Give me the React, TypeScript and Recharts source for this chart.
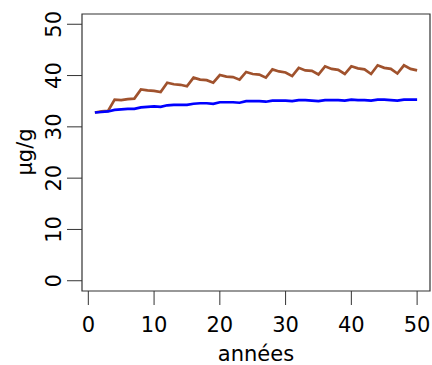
import { LineChart, Line, XAxis, YAxis, ReferenceArea, Label } from "recharts";

const years = [
  1, 2, 3, 4, 5, 6, 7, 8, 9, 10, 11, 12, 13, 14, 15, 16, 17, 18, 19, 20, 21, 22, 23, 24, 25,
  26, 27, 28, 29, 30, 31, 32, 33, 34, 35, 36, 37, 38, 39, 40, 41, 42, 43, 44, 45, 46, 47, 48,
  49, 50,
];

// brown sawtooth series (µg/g)
const brownSeries = [
  32.8, 33.0, 33.1, 35.3, 35.2, 35.4, 35.5, 37.3, 37.1, 37.0, 36.8, 38.6, 38.3, 38.2, 37.9,
  39.6, 39.2, 39.1, 38.6, 40.1, 39.8, 39.7, 39.2, 40.7, 40.3, 40.2, 39.6, 41.2, 40.8, 40.6,
  39.9, 41.5, 41.0, 40.9, 40.2, 41.8, 41.3, 41.1, 40.3, 41.8, 41.4, 41.2, 40.3, 42.0, 41.5,
  41.3, 40.4, 42.0, 41.3, 41.0,
];

// blue smooth series (µg/g)
const blueSeries = [
  32.8, 32.9, 33.0, 33.3, 33.4, 33.5, 33.5, 33.8, 33.9, 34.0, 33.9, 34.2, 34.3, 34.3, 34.3,
  34.5, 34.6, 34.6, 34.5, 34.8, 34.8, 34.8, 34.7, 35.0, 35.0, 35.0, 34.9, 35.1, 35.1, 35.1,
  35.0, 35.2, 35.2, 35.1, 35.0, 35.2, 35.2, 35.2, 35.1, 35.3, 35.2, 35.2, 35.1, 35.3, 35.3,
  35.2, 35.1, 35.3, 35.3, 35.3,
];

const xTicks = [0, 10, 20, 30, 40, 50];
const yTicks = [0, 10, 20, 30, 40, 50];

const data = years.map((x, i) => ({ x, brown: brownSeries[i], blue: blueSeries[i] }));

const FONT = "'DejaVu Sans', sans-serif";
const FS = 21;
const AXIS = "#333";

const YTick = (props: any) => {
  const { y, payload } = props;
  return (
    <text
      x={61}
      y={y}
      transform={`rotate(-90, 61, ${y})`}
      textAnchor="middle"
      fontFamily={FONT}
      fontSize={FS}
      fill="#000"
    >
      {payload.value}
    </text>
  );
};

export default function App() {
  return (
    <div style={{ position: "absolute", left: 0, top: 0, background: "#fff" }}>
      <LineChart
        width={432}
        height={365}
        data={data}
        margin={{ top: 14, right: 2, left: 0, bottom: 0 }}
      >
        <XAxis
          dataKey="x"
          type="number"
          domain={[-0.96, 51.96]}
          ticks={xTicks}
          allowDataOverflow
          axisLine={false}
          tickLine={{ stroke: AXIS }}
          tickSize={14}
          tickMargin={12}
          height={74}
          tick={{ fill: "#000", fontSize: FS, fontFamily: FONT }}
        >
          <Label
            content={() => (
              <text x={256} y={361} textAnchor="middle" fontFamily={FONT} fontSize={FS} fill="#000">
                années
              </text>
            )}
          />
        </XAxis>
        <YAxis
          type="number"
          domain={[-2, 52]}
          ticks={yTicks}
          allowDataOverflow
          axisLine={false}
          tickLine={{ stroke: AXIS }}
          tickSize={15}
          width={82}
          tick={<YTick />}
        >
          <Label
            content={() => (
              <text
                x={32}
                y={152}
                transform="rotate(-90, 32, 152)"
                textAnchor="middle"
                fontFamily={FONT}
                fontSize={FS}
                fill="#000"
              >
                µg/g
              </text>
            )}
          />
        </YAxis>
        <ReferenceArea x1={-0.96} x2={51.96} y1={-2} y2={52} fill="none" stroke={AXIS} strokeWidth={1.2} />
        <Line
          type="linear"
          dataKey="brown"
          stroke="#A0522D"
          strokeWidth={2.7}
          dot={false}
          isAnimationActive={false}
        />
        <Line
          type="linear"
          dataKey="blue"
          stroke="#0000FF"
          strokeWidth={2.7}
          dot={false}
          isAnimationActive={false}
        />
      </LineChart>
    </div>
  );
}
